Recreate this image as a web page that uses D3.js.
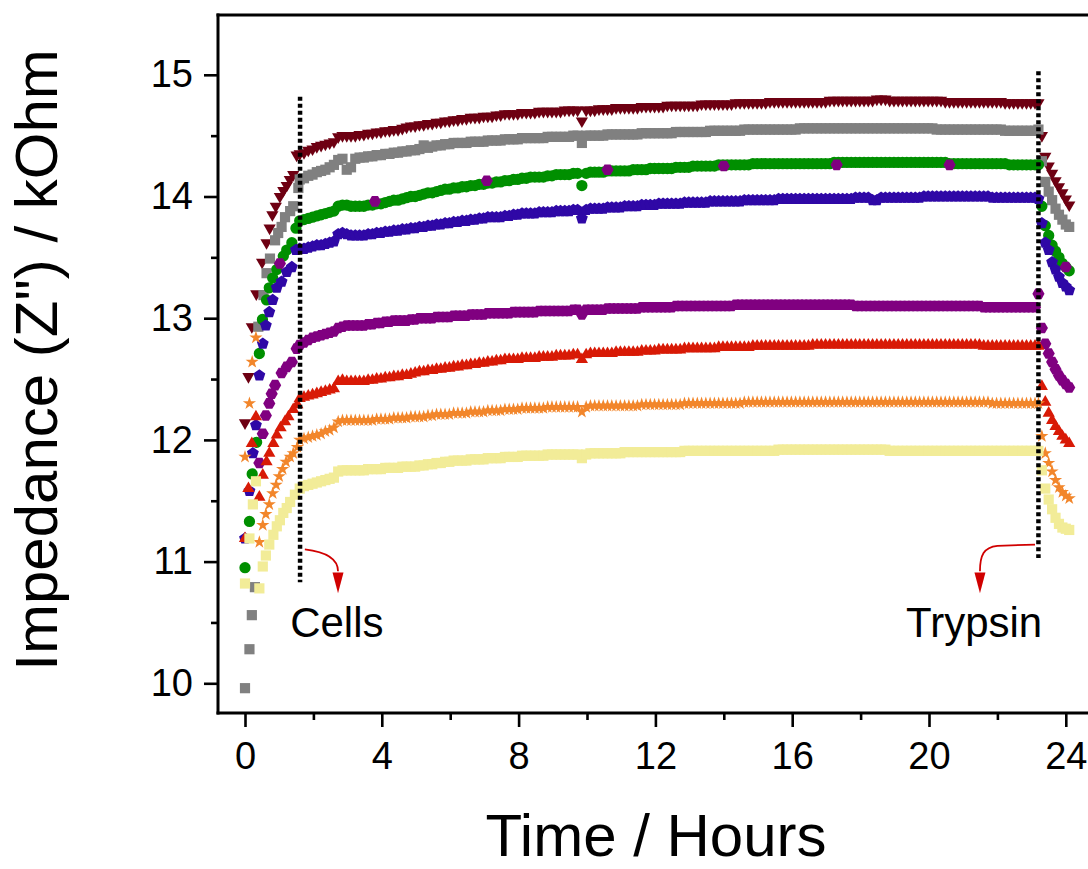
<!DOCTYPE html>
<html><head><meta charset="utf-8">
<script src="https://cdn.jsdelivr.net/npm/d3@7"></script>
<style>html,body{margin:0;padding:0;background:#fff}svg{display:block}</style>
</head><body>
<svg id="chart" width="1088" height="869"></svg>
<script>
// ---------------- DATA ----------------
const xMajorTicks = [0, 4, 8, 12, 16, 20, 24];
const xMinorTicks = [2, 6, 10, 14, 18, 22];
const yMajorTicks = [10, 11, 12, 13, 14, 15];
const yMinorTicks = [10.5, 11.5, 12.5, 13.5, 14.5];

// measurement times on the plateau (every 7.5 min)
const plateauHours = [
1.6, 1.725, 1.85, 1.975, 2.1, 2.225, 2.35, 2.475,
2.6, 2.725, 2.85, 2.975, 3.1, 3.225, 3.35, 3.475,
3.6, 3.725, 3.85, 3.975, 4.1, 4.225, 4.35, 4.475,
4.6, 4.725, 4.85, 4.975, 5.1, 5.225, 5.35, 5.475,
5.6, 5.725, 5.85, 5.975, 6.1, 6.225, 6.35, 6.475,
6.6, 6.725, 6.85, 6.975, 7.1, 7.225, 7.35, 7.475,
7.6, 7.725, 7.85, 7.975, 8.1, 8.225, 8.35, 8.475,
8.6, 8.725, 8.85, 8.975, 9.1, 9.225, 9.35, 9.475,
9.6, 9.725, 9.85, 9.975, 10.1, 10.225, 10.35, 10.475,
10.6, 10.725, 10.85, 10.975, 11.1, 11.225, 11.35, 11.475,
11.6, 11.725, 11.85, 11.975, 12.1, 12.225, 12.35, 12.475,
12.6, 12.725, 12.85, 12.975, 13.1, 13.225, 13.35, 13.475,
13.6, 13.725, 13.85, 13.975, 14.1, 14.225, 14.35, 14.475,
14.6, 14.725, 14.85, 14.975, 15.1, 15.225, 15.35, 15.475,
15.6, 15.725, 15.85, 15.975, 16.1, 16.225, 16.35, 16.475,
16.6, 16.725, 16.85, 16.975, 17.1, 17.225, 17.35, 17.475,
17.6, 17.725, 17.85, 17.975, 18.1, 18.225, 18.35, 18.475,
18.6, 18.725, 18.85, 18.975, 19.1, 19.225, 19.35, 19.475,
19.6, 19.725, 19.85, 19.975, 20.1, 20.225, 20.35, 20.475,
20.6, 20.725, 20.85, 20.975, 21.1, 21.225, 21.35, 21.475,
21.6, 21.725, 21.85, 21.975, 22.1, 22.225, 22.35, 22.475,
22.6, 22.725, 22.85, 22.975, 23.1];
const trypsinHours = [23.2, 23.3, 23.4, 23.5, 23.6, 23.7, 23.8, 23.9, 24.0, 24.1];

// Dark red (down triangles)
const darkRedEarlyHours = [0, 0.1, 0.2, 0.33, 0.5, 0.63, 0.72, 0.8, 0.9, 1.02, 1.12, 1.22, 1.31, 1.41, 1.51];
const darkRedEarly = [12.14, 12.52, 12.93, 13.2, 13.46, 13.62, 13.74, 13.85, 13.92, 14.0, 14.05, 14.09, 14.14, 14.18, 14.34];
const darkRedPlateau = [
14.35, 14.36, 14.38, 14.39, 14.41, 14.42, 14.43, 14.44,
14.45, 14.49, 14.50, 14.50, 14.50, 14.50, 14.51, 14.51,
14.52, 14.52, 14.53, 14.53, 14.54, 14.54, 14.55, 14.55,
14.56, 14.57, 14.58, 14.58, 14.59, 14.59, 14.60, 14.60,
14.61, 14.61, 14.62, 14.62, 14.63, 14.63, 14.64, 14.64,
14.65, 14.65, 14.65, 14.66, 14.66, 14.66, 14.67, 14.67,
14.68, 14.68, 14.68, 14.68, 14.69, 14.69, 14.69, 14.69,
14.70, 14.70, 14.70, 14.70, 14.70, 14.70, 14.71, 14.71,
14.71, 14.71, 14.62, 14.71, 14.71, 14.71, 14.72, 14.72,
14.72, 14.72, 14.73, 14.73, 14.73, 14.73, 14.73, 14.73,
14.74, 14.74, 14.74, 14.74, 14.74, 14.74, 14.75, 14.75,
14.75, 14.75, 14.75, 14.75, 14.75, 14.75, 14.76, 14.76,
14.76, 14.76, 14.76, 14.76, 14.76, 14.76, 14.77, 14.77,
14.77, 14.77, 14.77, 14.77, 14.77, 14.77, 14.78, 14.78,
14.78, 14.78, 14.78, 14.78, 14.78, 14.78, 14.78, 14.78,
14.78, 14.78, 14.78, 14.78, 14.79, 14.79, 14.79, 14.79,
14.79, 14.79, 14.79, 14.79, 14.79, 14.79, 14.79, 14.80,
14.80, 14.80, 14.79, 14.79, 14.79, 14.79, 14.79, 14.79,
14.79, 14.79, 14.79, 14.79, 14.79, 14.79, 14.79, 14.78,
14.78, 14.78, 14.78, 14.78, 14.78, 14.78, 14.78, 14.78,
14.78, 14.78, 14.78, 14.78, 14.78, 14.77, 14.77, 14.77,
14.77, 14.77, 14.77, 14.77, 14.77];
const darkRedTrypsin = [14.77, 14.50, 14.33, 14.25, 14.19, 14.13, 14.08, 14.03, 13.98, 13.93];

// Gray (squares)
const grayEarlyHours = [0, 0.13, 0.2, 0.29, 0.39, 0.54, 0.63, 0.73, 0.88, 0.97, 1.07, 1.17, 1.32, 1.41, 1.56];
const grayEarly = [9.96, 10.28, 10.56, 10.79, 12.93, 13.19, 13.37, 13.49, 13.64, 13.7, 13.75, 13.83, 13.88, 13.92, 14.07];
const grayPlateau = [
14.14, 14.15, 14.17, 14.18, 14.20, 14.21, 14.22, 14.24,
14.26, 14.30, 14.31, 14.22, 14.24, 14.31, 14.32, 14.32,
14.33, 14.33, 14.34, 14.34, 14.35, 14.35, 14.36, 14.36,
14.37, 14.37, 14.38, 14.38, 14.39, 14.42, 14.40, 14.41,
14.42, 14.42, 14.43, 14.43, 14.44, 14.44, 14.44, 14.44,
14.45, 14.45, 14.45, 14.45, 14.46, 14.46, 14.46, 14.46,
14.47, 14.47, 14.47, 14.47, 14.48, 14.48, 14.48, 14.48,
14.48, 14.48, 14.49, 14.49, 14.49, 14.49, 14.49, 14.49,
14.50, 14.50, 14.44, 14.50, 14.50, 14.50, 14.50, 14.50,
14.51, 14.51, 14.51, 14.51, 14.51, 14.51, 14.51, 14.51,
14.52, 14.52, 14.52, 14.52, 14.52, 14.52, 14.52, 14.52,
14.53, 14.53, 14.53, 14.53, 14.53, 14.53, 14.53, 14.53,
14.54, 14.54, 14.54, 14.54, 14.54, 14.54, 14.54, 14.54,
14.55, 14.55, 14.55, 14.55, 14.55, 14.55, 14.55, 14.55,
14.55, 14.55, 14.55, 14.55, 14.55, 14.56, 14.56, 14.56,
14.56, 14.56, 14.56, 14.56, 14.56, 14.56, 14.56, 14.56,
14.56, 14.56, 14.56, 14.56, 14.56, 14.56, 14.56, 14.56,
14.56, 14.56, 14.56, 14.56, 14.56, 14.56, 14.56, 14.56,
14.56, 14.56, 14.56, 14.56, 14.56, 14.55, 14.55, 14.55,
14.55, 14.55, 14.55, 14.55, 14.55, 14.55, 14.55, 14.55,
14.55, 14.55, 14.55, 14.55, 14.55, 14.54, 14.54, 14.54,
14.54, 14.54, 14.54, 14.54, 14.54];
const grayTrypsin = [14.55, 14.29, 14.12, 14.04, 13.97, 13.90, 13.85, 13.81, 13.77, 13.75];

// Green (circles)
const greenEarlyHours = [0, 0.13, 0.21, 0.34, 0.42, 0.51, 0.63, 0.71, 0.81, 0.93, 1.12, 1.22, 1.37, 1.49];
const greenEarly = [10.95, 11.33, 11.72, 11.98, 12.71, 12.99, 13.15, 13.25, 13.33, 13.4, 13.51, 13.56, 13.62, 13.74];
const greenPlateau = [
13.80, 13.81, 13.82, 13.83, 13.84, 13.85, 13.86, 13.87,
13.88, 13.92, 13.93, 13.93, 13.92, 13.92, 13.92, 13.92,
13.93, 13.93, 13.94, 13.94, 13.95, 13.96, 13.97, 13.97,
13.98, 13.99, 14.00, 14.00, 14.01, 14.02, 14.03, 14.03,
14.04, 14.05, 14.06, 14.06, 14.07, 14.07, 14.08, 14.08,
14.09, 14.09, 14.10, 14.10, 14.11, 14.11, 14.12, 14.12,
14.13, 14.13, 14.14, 14.14, 14.15, 14.15, 14.16, 14.16,
14.16, 14.16, 14.17, 14.17, 14.18, 14.18, 14.18, 14.18,
14.19, 14.19, 14.09, 14.19, 14.20, 14.20, 14.20, 14.20,
14.21, 14.21, 14.21, 14.21, 14.21, 14.21, 14.22, 14.22,
14.22, 14.22, 14.23, 14.23, 14.23, 14.23, 14.23, 14.23,
14.24, 14.24, 14.24, 14.24, 14.25, 14.25, 14.25, 14.25,
14.25, 14.25, 14.26, 14.26, 14.26, 14.26, 14.26, 14.26,
14.26, 14.26, 14.27, 14.27, 14.27, 14.27, 14.27, 14.27,
14.27, 14.27, 14.27, 14.27, 14.27, 14.27, 14.27, 14.27,
14.27, 14.27, 14.27, 14.27, 14.27, 14.28, 14.28, 14.28,
14.28, 14.28, 14.28, 14.28, 14.28, 14.28, 14.28, 14.28,
14.28, 14.28, 14.28, 14.28, 14.28, 14.28, 14.28, 14.28,
14.28, 14.28, 14.28, 14.28, 14.28, 14.28, 14.28, 14.28,
14.27, 14.27, 14.27, 14.27, 14.27, 14.27, 14.27, 14.27,
14.27, 14.27, 14.27, 14.27, 14.27, 14.27, 14.26, 14.26,
14.26, 14.26, 14.26, 14.26, 14.26];
const greenTrypsin = [14.26, 13.92, 13.76, 13.68, 13.60, 13.55, 13.50, 13.45, 13.42, 13.39];

// Blue (pentagons)
const blueEarlyHours = [0, 0.13, 0.23, 0.32, 0.42, 0.52, 0.61, 0.71, 0.81, 0.93, 1.07, 1.22, 1.37, 1.49];
const blueEarly = [11.19, 11.58, 11.89, 12.12, 12.53, 12.79, 12.94, 13.05, 13.15, 13.25, 13.3, 13.38, 13.42, 13.56];
const bluePlateau = [
13.57, 13.57, 13.58, 13.59, 13.60, 13.60, 13.61, 13.62,
13.63, 13.69, 13.70, 13.69, 13.68, 13.68, 13.68, 13.68,
13.69, 13.69, 13.70, 13.70, 13.71, 13.71, 13.72, 13.72,
13.73, 13.73, 13.74, 13.74, 13.75, 13.75, 13.76, 13.76,
13.77, 13.77, 13.78, 13.78, 13.79, 13.79, 13.80, 13.80,
13.81, 13.81, 13.82, 13.82, 13.83, 13.83, 13.83, 13.83,
13.84, 13.84, 13.85, 13.85, 13.86, 13.86, 13.86, 13.86,
13.87, 13.87, 13.87, 13.87, 13.88, 13.88, 13.88, 13.88,
13.89, 13.89, 13.82, 13.89, 13.90, 13.90, 13.90, 13.90,
13.91, 13.91, 13.91, 13.91, 13.92, 13.92, 13.92, 13.92,
13.93, 13.93, 13.93, 13.93, 13.94, 13.94, 13.94, 13.94,
13.94, 13.94, 13.95, 13.95, 13.95, 13.95, 13.95, 13.95,
13.96, 13.96, 13.96, 13.96, 13.96, 13.96, 13.96, 13.96,
13.97, 13.97, 13.97, 13.97, 13.97, 13.97, 13.97, 13.97,
13.98, 13.98, 13.98, 13.98, 13.98, 13.98, 13.98, 13.98,
13.98, 13.98, 13.98, 13.98, 13.98, 13.98, 13.98, 13.98,
13.98, 13.98, 13.99, 13.99, 13.99, 13.99, 13.97, 13.97,
13.99, 13.99, 13.99, 13.99, 13.99, 13.99, 13.99, 13.99,
13.99, 13.99, 14.00, 14.00, 14.00, 14.00, 14.00, 14.00,
14.00, 14.00, 14.00, 14.00, 14.00, 14.00, 14.00, 14.00,
14.00, 14.00, 13.99, 13.99, 13.99, 13.99, 13.99, 13.99,
13.99, 13.99, 13.99, 13.99, 13.99];
const blueTrypsin = [13.98, 13.78, 13.62, 13.56, 13.46, 13.40, 13.34, 13.29, 13.26, 13.23];

// Purple (hexagons)
const purpleEarlyHours = [0.42, 0.52, 0.61, 0.71, 0.78, 0.88, 1.07, 1.22, 1.37, 1.51];
const purpleEarly = [11.81, 12.05, 12.2, 12.3, 12.38, 12.45, 12.55, 12.6, 12.64, 12.75];
const purplePlateau = [
12.78, 12.80, 12.82, 12.84, 12.85, 12.86, 12.87, 12.88,
12.89, 12.92, 12.93, 12.94, 12.94, 12.94, 12.94, 12.94,
12.95, 12.95, 12.96, 12.96, 12.97, 12.97, 12.98, 12.98,
12.98, 12.98, 12.99, 12.99, 13.00, 13.00, 13.00, 13.00,
13.01, 13.01, 13.01, 13.01, 13.02, 13.02, 13.02, 13.02,
13.03, 13.03, 13.03, 13.03, 13.04, 13.04, 13.04, 13.04,
13.04, 13.04, 13.05, 13.05, 13.05, 13.05, 13.05, 13.05,
13.06, 13.06, 13.06, 13.06, 13.06, 13.06, 13.06, 13.06,
13.07, 13.07, 13.03, 13.07, 13.07, 13.07, 13.07, 13.07,
13.08, 13.08, 13.08, 13.08, 13.08, 13.08, 13.08, 13.08,
13.09, 13.09, 13.09, 13.09, 13.09, 13.09, 13.09, 13.09,
13.10, 13.10, 13.10, 13.10, 13.10, 13.10, 13.10, 13.10,
13.10, 13.10, 13.10, 13.10, 13.10, 13.10, 13.11, 13.11,
13.11, 13.11, 13.11, 13.11, 13.11, 13.11, 13.11, 13.11,
13.11, 13.11, 13.11, 13.11, 13.11, 13.11, 13.11, 13.11,
13.11, 13.11, 13.11, 13.11, 13.11, 13.11, 13.11, 13.11,
13.11, 13.11, 13.10, 13.10, 13.10, 13.10, 13.10, 13.10,
13.10, 13.10, 13.10, 13.10, 13.10, 13.10, 13.10, 13.10,
13.10, 13.10, 13.10, 13.10, 13.10, 13.10, 13.10, 13.10,
13.10, 13.10, 13.10, 13.10, 13.10, 13.10, 13.10, 13.10,
13.09, 13.09, 13.09, 13.09, 13.09, 13.09, 13.09, 13.09,
13.09, 13.09, 13.09, 13.09, 13.09];
const purpleTrypsin = [13.20, 12.92, 12.79, 12.71, 12.64, 12.58, 12.53, 12.49, 12.46, 12.43];
const purpleExtraHours = [1.02, 3.8, 7.07, 10.6, 14.0, 17.3, 20.6, 24.0];
const purpleExtra = [13.45, 13.96, 14.13, 14.22, 14.25, 14.26, 14.26, 13.42];

// Red (up triangles)
const redEarlyHours = [0, 0.1, 0.2, 0.32, 0.42, 0.52, 0.63, 0.71, 0.83, 0.93, 1.04, 1.17, 1.27, 1.41, 1.53];
const redEarly = [11.19, 11.6, 11.97, 12.19, 11.53, 11.71, 11.82, 11.89, 11.97, 12.04, 12.1, 12.15, 12.19, 12.25, 12.29];
const redPlateau = [
12.34, 12.35, 12.36, 12.37, 12.38, 12.39, 12.40, 12.41,
12.42, 12.48, 12.49, 12.48, 12.48, 12.48, 12.48, 12.48,
12.49, 12.49, 12.50, 12.50, 12.51, 12.51, 12.52, 12.52,
12.53, 12.53, 12.54, 12.55, 12.56, 12.56, 12.57, 12.57,
12.58, 12.58, 12.59, 12.59, 12.60, 12.60, 12.61, 12.61,
12.62, 12.62, 12.63, 12.63, 12.64, 12.64, 12.65, 12.65,
12.66, 12.66, 12.66, 12.66, 12.67, 12.67, 12.67, 12.67,
12.68, 12.68, 12.68, 12.68, 12.69, 12.69, 12.69, 12.69,
12.70, 12.70, 12.66, 12.70, 12.71, 12.71, 12.71, 12.71,
12.71, 12.71, 12.72, 12.72, 12.72, 12.72, 12.72, 12.72,
12.73, 12.73, 12.73, 12.73, 12.74, 12.74, 12.74, 12.74,
12.74, 12.74, 12.75, 12.75, 12.75, 12.75, 12.75, 12.75,
12.75, 12.75, 12.76, 12.76, 12.76, 12.76, 12.76, 12.76,
12.76, 12.76, 12.77, 12.77, 12.77, 12.77, 12.77, 12.77,
12.77, 12.77, 12.77, 12.77, 12.77, 12.77, 12.77, 12.77,
12.78, 12.78, 12.78, 12.78, 12.78, 12.78, 12.78, 12.78,
12.78, 12.78, 12.78, 12.78, 12.78, 12.78, 12.78, 12.78,
12.78, 12.78, 12.78, 12.78, 12.78, 12.78, 12.78, 12.78,
12.78, 12.78, 12.78, 12.78, 12.78, 12.78, 12.78, 12.78,
12.78, 12.78, 12.78, 12.78, 12.78, 12.78, 12.78, 12.78,
12.77, 12.77, 12.77, 12.77, 12.77, 12.77, 12.77, 12.77,
12.77, 12.77, 12.77, 12.77, 12.77];
const redTrypsin = [12.77, 12.44, 12.31, 12.22, 12.16, 12.11, 12.07, 12.03, 12.00, 11.97];

// Orange (stars)
const orangeEarlyHours = [0, 0.13, 0.21, 0.32, 0.42, 0.52, 0.61, 0.71, 0.81, 0.91, 1.0, 1.1, 1.2, 1.32, 1.41, 1.53];
const orangeEarly = [11.86, 12.3, 12.64, 12.84, 11.16, 11.3, 11.39, 11.47, 11.56, 11.63, 11.7, 11.76, 11.82, 11.86, 11.89, 11.94];
const orangePlateau = [
12.00, 12.01, 12.02, 12.03, 12.04, 12.05, 12.07, 12.08,
12.10, 12.15, 12.16, 12.16, 12.16, 12.16, 12.16, 12.16,
12.16, 12.16, 12.17, 12.17, 12.17, 12.17, 12.18, 12.18,
12.18, 12.18, 12.19, 12.19, 12.19, 12.19, 12.20, 12.20,
12.21, 12.21, 12.21, 12.21, 12.22, 12.22, 12.22, 12.22,
12.23, 12.23, 12.23, 12.23, 12.24, 12.24, 12.24, 12.24,
12.25, 12.25, 12.25, 12.25, 12.26, 12.26, 12.26, 12.26,
12.26, 12.26, 12.27, 12.27, 12.27, 12.27, 12.27, 12.27,
12.27, 12.27, 12.23, 12.27, 12.28, 12.28, 12.28, 12.28,
12.28, 12.28, 12.28, 12.28, 12.28, 12.28, 12.28, 12.28,
12.29, 12.29, 12.29, 12.29, 12.29, 12.29, 12.29, 12.29,
12.29, 12.29, 12.30, 12.30, 12.30, 12.30, 12.30, 12.30,
12.30, 12.30, 12.30, 12.30, 12.30, 12.30, 12.30, 12.30,
12.31, 12.31, 12.31, 12.31, 12.31, 12.31, 12.31, 12.31,
12.31, 12.31, 12.31, 12.31, 12.31, 12.31, 12.31, 12.31,
12.31, 12.31, 12.31, 12.31, 12.31, 12.31, 12.31, 12.31,
12.31, 12.31, 12.31, 12.31, 12.31, 12.31, 12.31, 12.31,
12.31, 12.31, 12.31, 12.31, 12.31, 12.31, 12.31, 12.31,
12.31, 12.31, 12.31, 12.31, 12.31, 12.31, 12.31, 12.31,
12.31, 12.31, 12.31, 12.31, 12.31, 12.31, 12.31, 12.31,
12.31, 12.31, 12.30, 12.30, 12.30, 12.30, 12.30, 12.30,
12.30, 12.30, 12.30, 12.30, 12.30];
const orangeTrypsin = [12.30, 12.03, 11.89, 11.81, 11.74, 11.67, 11.61, 11.57, 11.54, 11.52];

// Pale yellow (squares)
const yellowEarlyHours = [0, 0.13, 0.23, 0.32, 0.42, 0.52, 0.61, 0.71, 0.83, 0.93, 1.02, 1.12, 1.22, 1.32, 1.46];
const yellowEarly = [10.82, 11.19, 11.47, 11.66, 10.78, 10.96, 11.05, 11.14, 11.22, 11.29, 11.34, 11.4, 11.44, 11.49, 11.55];
const yellowPlateau = [
11.60, 11.62, 11.63, 11.64, 11.65, 11.66, 11.67, 11.68,
11.69, 11.74, 11.75, 11.75, 11.75, 11.75, 11.75, 11.75,
11.76, 11.76, 11.76, 11.76, 11.77, 11.77, 11.77, 11.77,
11.78, 11.78, 11.78, 11.78, 11.79, 11.79, 11.80, 11.80,
11.81, 11.81, 11.82, 11.82, 11.83, 11.83, 11.83, 11.83,
11.84, 11.84, 11.84, 11.84, 11.85, 11.85, 11.85, 11.85,
11.86, 11.86, 11.86, 11.86, 11.87, 11.87, 11.87, 11.87,
11.87, 11.87, 11.88, 11.88, 11.88, 11.88, 11.88, 11.88,
11.88, 11.88, 11.85, 11.88, 11.89, 11.89, 11.89, 11.89,
11.89, 11.89, 11.89, 11.89, 11.90, 11.90, 11.90, 11.90,
11.90, 11.90, 11.90, 11.90, 11.90, 11.90, 11.90, 11.90,
11.90, 11.90, 11.91, 11.91, 11.91, 11.91, 11.91, 11.91,
11.91, 11.91, 11.91, 11.91, 11.91, 11.91, 11.91, 11.91,
11.91, 11.91, 11.91, 11.91, 11.91, 11.91, 11.91, 11.91,
11.92, 11.92, 11.92, 11.92, 11.92, 11.92, 11.92, 11.92,
11.92, 11.92, 11.92, 11.92, 11.92, 11.92, 11.92, 11.92,
11.92, 11.92, 11.92, 11.92, 11.92, 11.92, 11.92, 11.92,
11.92, 11.92, 11.91, 11.91, 11.91, 11.91, 11.91, 11.91,
11.91, 11.91, 11.91, 11.91, 11.91, 11.91, 11.91, 11.91,
11.91, 11.91, 11.91, 11.91, 11.91, 11.91, 11.91, 11.91,
11.91, 11.91, 11.91, 11.91, 11.91, 11.91, 11.91, 11.91,
11.91, 11.91, 11.91, 11.91, 11.91];
const yellowTrypsin = [11.91, 11.75, 11.60, 11.51, 11.43, 11.36, 11.31, 11.28, 11.27, 11.26];

// event markers (hours)
const cellsHour = 1.61, trypsinHour = 23.2;

// ---------------- CHART ----------------
const svg = d3.select("#chart");
const FONT = "'Liberation Sans', Arial, Helvetica, sans-serif";
const x = d3.scaleLinear().domain([0, 24]).range([245, 1065.8]);
const y = d3.scaleLinear().domain([10, 15]).range([683.3, 74.8]);
const frameLeft = 218, frameBottom = 713, frameTop = 15, frameRight = 1100;

function polygon(n, rot) {
  return { draw(ctx, size) {
    const r = Math.sqrt(size);
    for (let i = 0; i < n; i++) {
      const a = rot + 2 * Math.PI * i / n;
      const px = r * Math.sin(a), py = -r * Math.cos(a);
      if (i === 0) ctx.moveTo(px, py); else ctx.lineTo(px, py);
    }
    ctx.closePath();
  }};
}
const symTriDown = polygon(3, Math.PI), symTriUp = polygon(3, 0);
const symSquare = polygon(4, Math.PI / 4), symPent = polygon(5, 0), symHex = polygon(6, Math.PI / 2);

function joinPts(pairs) {
  const pts = [];
  pairs.forEach(([h, v]) => {
    const n = Math.min(h.length, v.length);
    for (let i = 0; i < n; i++) pts.push([h[i], v[i]]);
  });
  return pts;
}

const series = [
  { color: "#6e0012", type: symTriDown, size: 50, pts: joinPts([[darkRedEarlyHours, darkRedEarly], [plateauHours, darkRedPlateau], [trypsinHours, darkRedTrypsin]]) },
  { color: "#808080", type: symSquare, size: 52, pts: joinPts([[grayEarlyHours, grayEarly], [plateauHours, grayPlateau], [trypsinHours, grayTrypsin]]) },
  { color: "#008f00", type: d3.symbolCircle, size: 100, pts: joinPts([[greenEarlyHours, greenEarly], [plateauHours, greenPlateau], [trypsinHours, greenTrypsin]]) },
  { color: "#2f08a6", type: symPent, size: 39, pts: joinPts([[blueEarlyHours, blueEarly], [plateauHours, bluePlateau], [trypsinHours, blueTrypsin]]) },
  { color: "#800080", type: symHex, size: 37, pts: joinPts([[purpleEarlyHours, purpleEarly], [plateauHours, purplePlateau], [trypsinHours, purpleTrypsin], [purpleExtraHours, purpleExtra]]) },
  { color: "#d81a06", type: symTriUp, size: 50, pts: joinPts([[redEarlyHours, redEarly], [plateauHours, redPlateau], [trypsinHours, redTrypsin]]) },
  { color: "#f2862b", type: d3.symbolStar, size: 54, pts: joinPts([[orangeEarlyHours, orangeEarly], [plateauHours, orangePlateau], [trypsinHours, orangeTrypsin]]) },
  { color: "#f2ec98", type: symSquare, size: 52, pts: joinPts([[yellowEarlyHours, yellowEarly], [plateauHours, yellowPlateau], [trypsinHours, yellowTrypsin]]) }
];

const gData = svg.append("g");
series.forEach(s => {
  const sym = d3.symbol().type(s.type).size(s.size);
  gData.append("g").attr("fill", s.color)
    .selectAll("path").data(s.pts).join("path")
    .attr("transform", d => `translate(${x(d[0])},${y(d[1])})`)
    .attr("d", sym());
});

// event lines (dotted)
const gEv = svg.append("g").attr("stroke", "#000").attr("stroke-width", 4.5).attr("stroke-dasharray", "4,3");
gEv.append("line").attr("x1", x(cellsHour)).attr("x2", x(cellsHour)).attr("y1", y(14.82)).attr("y2", y(10.83));
gEv.append("line").attr("x1", x(trypsinHour)).attr("x2", x(trypsinHour)).attr("y1", y(15.03)).attr("y2", y(11.03));

// red curved arrows
const arrowColor = "#d00000";
function arrow(d, tipH, baseV, tipV) {
  svg.append("path").attr("d", d).attr("fill", "none").attr("stroke", arrowColor).attr("stroke-width", 1.8);
  const tx = x(tipH);
  svg.append("path").attr("fill", arrowColor)
    .attr("d", `M${tx - 5.5},${y(baseV)}L${tx + 5.5},${y(baseV)}L${tx},${y(tipV)}Z`);
}
arrow(`M${x(1.75)},${y(11.1)} C${x(2.35)},${y(11.08)} ${x(2.72)},${y(11.03)} ${x(2.72)},${y(10.92)}`, 2.72, 10.91, 10.74);
arrow(`M${x(23.1)},${y(11.14)} L${x(22.0)},${y(11.13)} C${x(21.6)},${y(11.12)} ${x(21.49)},${y(11.05)} ${x(21.49)},${y(10.92)}`, 21.49, 10.91, 10.74);

svg.append("text").attr("x", x(1.32)).attr("y", y(10.38)).attr("font-family", FONT).attr("font-size", 42).text("Cells");
svg.append("text").attr("x", x(19.33)).attr("y", y(10.38)).attr("font-family", FONT).attr("font-size", 42).text("Trypsin");

// axes
function styleAxis(g) {
  g.select(".domain").remove();
  g.selectAll(".tick line").attr("stroke", "#000").attr("stroke-width", 2.6);
  g.selectAll(".tick text").attr("font-family", FONT).attr("font-size", 38).attr("fill", "#000");
}
svg.append("g").attr("transform", `translate(${frameLeft},0)`)
  .call(d3.axisLeft(y).tickValues(yMajorTicks).tickSize(14).tickPadding(11).tickFormat(d3.format("d"))).call(styleAxis);
svg.append("g").attr("transform", `translate(${frameLeft},0)`)
  .call(d3.axisLeft(y).tickValues(yMinorTicks).tickSize(7).tickFormat("")).call(styleAxis);
svg.append("g").attr("transform", `translate(0,${frameBottom})`)
  .call(d3.axisBottom(x).tickValues(xMajorTicks).tickSize(14).tickPadding(15).tickFormat(d3.format("d"))).call(styleAxis);
svg.append("g").attr("transform", `translate(0,${frameBottom})`)
  .call(d3.axisBottom(x).tickValues(xMinorTicks).tickSize(7).tickFormat("")).call(styleAxis);

const frame = svg.append("g").attr("stroke", "#000").attr("stroke-width", 3);
frame.append("line").attr("x1", frameLeft).attr("x2", frameLeft).attr("y1", frameTop - 1.5).attr("y2", frameBottom + 1.5);
frame.append("line").attr("x1", frameLeft - 1.5).attr("x2", frameRight).attr("y1", frameBottom).attr("y2", frameBottom);
frame.append("line").attr("x1", frameLeft - 1.5).attr("x2", frameRight).attr("y1", frameTop).attr("y2", frameTop);

// axis titles
svg.append("text").attr("transform", "translate(57,360) rotate(-90)").attr("text-anchor", "middle")
  .attr("font-family", FONT).attr("font-size", 60).text("Impedance (Z\") / kOhm");
svg.append("text").attr("x", 656).attr("y", 856).attr("text-anchor", "middle")
  .attr("font-family", FONT).attr("font-size", 60).text("Time / Hours");
</script>
</body></html>
